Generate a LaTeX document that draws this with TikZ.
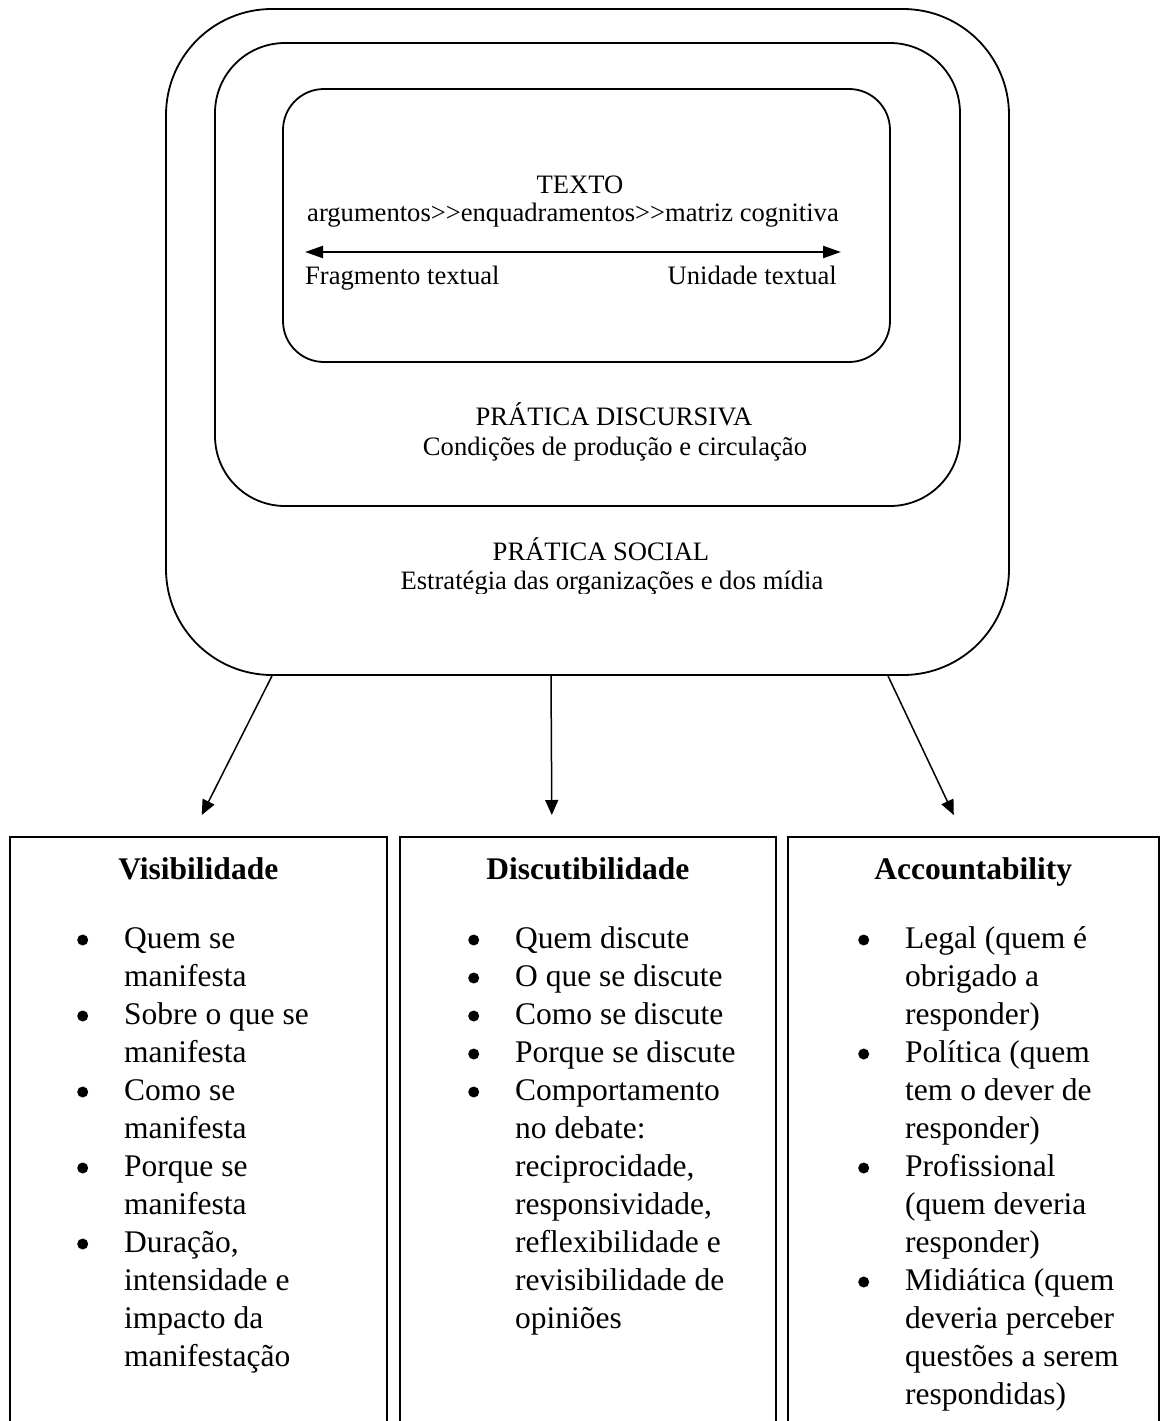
\documentclass[tikz,border=0pt]{standalone}
\usepackage{fontspec}
\setmainfont{Liberation Serif}
\usetikzlibrary{arrows.meta,positioning}

\newcommand{\bul}{\tikz[baseline=-8pt]\fill (0,0) circle (5.5pt);}
\newcommand{\bulletlist}[1]{\begin{tabular}[t]{@{}l@{\hspace{36pt}}l@{}}#1\end{tabular}}

\begin{document}
\begin{tikzpicture}[x=1pt,y=-1pt,
  frame/.style={draw,line width=1.8pt,inner sep=0pt},
  box/.style={draw,line width=1.6pt,inner sep=0pt,anchor=north west,minimum height=640pt},
  small/.style={font=\fontsize{26.6}{32}\selectfont,inner sep=0pt,anchor=base},
  big/.style={font=\fontsize{31.5}{38}\selectfont,inner sep=0pt},
  title/.style={big,font=\fontsize{31.5}{38}\selectfont\bfseries,anchor=base},
  arr/.style={line width=1.5pt,-{Triangle[length=15pt,width=13pt]}}]
\path[use as bounding box] (0,0) rectangle (1162,1421);
\clip (0,0) rectangle (1162,1421);

% nested frames
\node[frame,rounded corners=106pt,minimum width=843pt,minimum height=666pt] (social) at (587.5,342) {};
\node[frame,rounded corners=70pt,minimum width=745pt,minimum height=463pt] (disc) at (587.5,274.5) {};
\node[frame,rounded corners=41pt,minimum width=607pt,minimum height=273pt] (texto) at (586.5,225.5) {};

% TEXTO
\node[small] (textotitle) at (580,193) {TEXTO};
\node[small] (args) at (573,221) {argumentos>{}>enquadramentos>{}>matriz cognitiva};
\node[small,anchor=base west] (frag) at (305,284) {Fragmento textual};
\node[small,anchor=base east] (unid) at (837,284) {Unidade textual};
\coordinate (fragend) at (305,252);
\coordinate (unidend) at (841,252);
\draw[line width=2.2pt,{Triangle[length=18pt,width=12pt]}-{Triangle[length=18pt,width=12pt]}] (fragend) -- (unidend);

% PRATICA DISCURSIVA
\node[small] (disctitle) at (614,425) {PRÁTICA DISCURSIVA};
\node[small] (disctext) at (615,455) {Condições de produção e circulação};

% PRATICA SOCIAL
\node[small] (socialtitle) at (601,560) {PRÁTICA SOCIAL};
\begin{scope}
\clip (360,560) rectangle (880,593.5);
\node[small] (socialtext) at (612,589) {Estratégia das organizações e dos mídia};
\end{scope}

% Visibilidade
\node[box,minimum width=377pt] (vis) at (9,836) {};
\node[title] (vistitle) at ([yshift=-43pt]vis.north) {Visibilidade};
\node[big,anchor=base west] (vislist) at ([xshift=68pt,yshift=-112pt]vis.north west) {\bulletlist{
\bul & Quem se\\
 & manifesta\\
\bul & Sobre o que se\\
 & manifesta\\
\bul & Como se\\
 & manifesta\\
\bul & Porque se\\
 & manifesta\\
\bul & Duração,\\
 & intensidade e\\
 & impacto da\\
 & manifestação}};

% Discutibilidade
\node[box,minimum width=376pt] (disc) at (399,836) {};
\node[title] (disctitle) at ([yshift=-43pt]disc.north) {Discutibilidade};
\node[big,anchor=base west] (disclist) at ([xshift=69pt,yshift=-112pt]disc.north west) {\bulletlist{
\bul & Quem discute\\
\bul & O que se discute\\
\bul & Como se discute\\
\bul & Porque se discute\\
\bul & Comportamento\\
 & no debate:\\
 & reciprocidade,\\
 & responsividade,\\
 & reflexibilidade e\\
 & revisibilidade de\\
 & opiniões}};

% Accountability
\node[box,minimum width=371pt] (acc) at (787,836) {};
\node[title] (acctitle) at ([yshift=-43pt]acc.north) {Accountability};
\node[big,anchor=base west] (acclist) at ([xshift=71pt,yshift=-112pt]acc.north west) {\bulletlist{
\bul & Legal (quem é\\
 & obrigado a\\
 & responder)\\
\bul & Política (quem\\
 & tem o dever de\\
 & responder)\\
\bul & Profissional\\
 & (quem deveria\\
 & responder)\\
\bul & Midiática (quem\\
 & deveria perceber\\
 & questões a serem\\
 & respondidas)}};

% arrows
\draw[arr] ([xshift=-315.5pt]social.south) -- ([xshift=3.5pt,yshift=21pt]vis.north);
\draw[arr] ([xshift=-36.5pt]social.south) -- ([xshift=-36pt,yshift=21pt]disc.north);
\draw[arr] ([xshift=300.5pt]social.south) -- ([xshift=-19.5pt,yshift=21pt]acc.north);
\end{tikzpicture}
\end{document}
